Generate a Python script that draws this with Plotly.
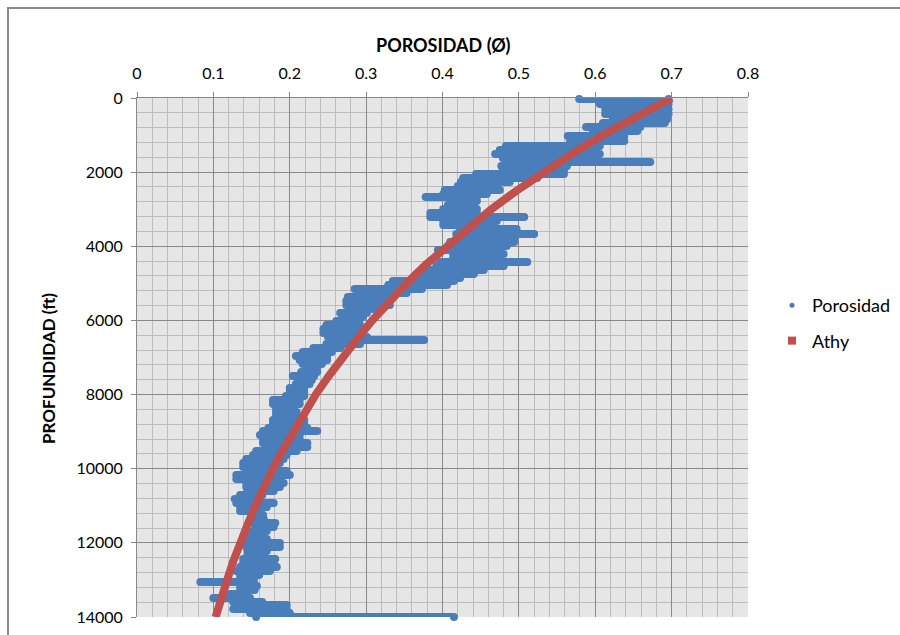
import plotly.graph_objects as go

# ---- data ----
depth_ft = [30, 160, 300, 430, 570, 675, 780, 890, 1025, 1160,
            1295, 1405, 1510, 1620, 1725, 1835, 1940, 2050, 2160, 2265,
            2375, 2480, 2590, 2670, 2780, 2885, 2995, 3100, 3210, 3320,
            3425, 3535, 3670, 3775, 3885, 3990, 4100, 4210, 4315, 4425,
            4530, 4640, 4750, 4855, 4935, 5045, 5150, 5260, 5370, 5475,
            5585, 5690, 5800, 5910, 6015, 6125, 6230, 6340, 6445, 6530,
            6635, 6745, 6850, 6960, 7070, 7175, 7285, 7390, 7500, 7605,
            7715, 7825, 7930, 8040, 8145, 8255, 8360, 8470, 8580, 8685,
            8795, 8900, 8985, 9090, 9200, 9305, 9415, 9520, 9630, 9740,
            9845, 9955, 10060, 10170, 10280, 10385, 10495, 10600, 10710, 10815,
            10925, 11035, 11140, 11250, 11355, 11465, 11570, 11680, 11790, 11895,
            12005, 12110, 12220, 12330, 12435, 12545, 12650, 12760, 12865, 12975,
            13055, 13165, 13270, 13380, 13490, 13595, 13675, 13785, 13895, 14000]

phi_left = [0.579, 0.606, 0.613, 0.613, 0.623, 0.610, 0.588, 0.597, 0.564, 0.567,
            0.483, 0.475, 0.469, 0.479, 0.483, 0.477, 0.479, 0.444, 0.427, 0.424,
            0.420, 0.403, 0.401, 0.378, 0.410, 0.407, 0.401, 0.384, 0.384, 0.401,
            0.401, 0.423, 0.418, 0.427, 0.410, 0.407, 0.394, 0.414, 0.414, 0.397,
            0.392, 0.381, 0.375, 0.364, 0.335, 0.329, 0.285, 0.292, 0.276, 0.274,
            0.274, 0.292, 0.266, 0.270, 0.261, 0.248, 0.244, 0.244, 0.250, 0.257,
            0.248, 0.231, 0.217, 0.208, 0.213, 0.217, 0.227, 0.215, 0.204, 0.211,
            0.208, 0.200, 0.200, 0.195, 0.178, 0.178, 0.182, 0.182, 0.182, 0.178,
            0.178, 0.172, 0.165, 0.161, 0.165, 0.165, 0.169, 0.156, 0.152, 0.143,
            0.139, 0.139, 0.156, 0.130, 0.130, 0.143, 0.143, 0.145, 0.135, 0.128,
            0.130, 0.135, 0.135, 0.151, 0.152, 0.152, 0.156, 0.152, 0.149, 0.145,
            0.143, 0.143, 0.145, 0.145, 0.139, 0.139, 0.135, 0.130, 0.135, 0.135,
            0.083, 0.135, 0.135, 0.122, 0.100, 0.126, 0.148, 0.126, 0.148, 0.156]

phi_right = [0.696, 0.696, 0.696, 0.696, 0.694, 0.691, 0.659, 0.655, 0.638, 0.638,
             0.606, 0.589, 0.606, 0.602, 0.672, 0.563, 0.559, 0.559, 0.524, 0.488,
             0.471, 0.475, 0.458, 0.445, 0.445, 0.441, 0.445, 0.445, 0.507, 0.471,
             0.465, 0.497, 0.520, 0.494, 0.494, 0.484, 0.471, 0.480, 0.471, 0.511,
             0.480, 0.454, 0.441, 0.423, 0.415, 0.406, 0.373, 0.353, 0.334, 0.321,
             0.331, 0.314, 0.301, 0.295, 0.291, 0.292, 0.292, 0.288, 0.301, 0.376,
             0.292, 0.266, 0.255, 0.249, 0.249, 0.242, 0.236, 0.236, 0.232, 0.229,
             0.226, 0.219, 0.219, 0.219, 0.213, 0.213, 0.205, 0.209, 0.209, 0.219,
             0.219, 0.223, 0.236, 0.213, 0.213, 0.223, 0.223, 0.209, 0.196, 0.192,
             0.187, 0.183, 0.196, 0.200, 0.179, 0.192, 0.187, 0.179, 0.164, 0.161,
             0.179, 0.170, 0.161, 0.165, 0.166, 0.181, 0.179, 0.170, 0.164, 0.170,
             0.187, 0.187, 0.170, 0.166, 0.181, 0.179, 0.183, 0.174, 0.160, 0.153,
             0.153, 0.157, 0.154, 0.144, 0.148, 0.164, 0.196, 0.196, 0.200, 0.415]

athy_depth = [0, 500, 1000, 1500, 2000, 2500, 3000, 3500, 4000, 4500,
              5000, 5500, 6000, 6500, 7000, 7500, 8000, 8500, 9000, 9500,
              10000, 10500, 11000, 11500, 12000, 12500, 13000, 13500, 14000]
athy_phi = [0.700, 0.654, 0.610, 0.570, 0.532, 0.497, 0.464, 0.434, 0.405, 0.378,
            0.353, 0.330, 0.308, 0.288, 0.268, 0.251, 0.234, 0.219, 0.204, 0.191,
            0.178, 0.166, 0.155, 0.145, 0.135, 0.126, 0.118, 0.110, 0.103]

x_ticks = [0, 0.1, 0.2, 0.3, 0.4, 0.5, 0.6, 0.7, 0.8]
y_ticks = [0, 2000, 4000, 6000, 8000, 10000, 12000, 14000]

BLUE = "#4a7ebb"
RED = "#c0504d"
FONT = "Lato"
MAJOR = "#888888"
MINOR = "#bcbcbc"

# build the log trace: one horizontal run per depth step
xs, ys = [], []
for d, lft, rgt in zip(depth_ft, phi_left, phi_right):
    xs += [lft, rgt, None]
    ys += [d, d, None]

fig = go.Figure()
fig.add_trace(go.Scatter(x=xs, y=ys, mode="lines+markers",
                         line=dict(color=BLUE, width=8),
                         marker=dict(color=BLUE, size=8),
                         cliponaxis=False, showlegend=False, hoverinfo="skip"))
fig.add_trace(go.Scatter(x=athy_phi, y=athy_depth, mode="lines",
                         line=dict(color=RED, width=8),
                         showlegend=False, hoverinfo="skip"))
# legend entries
fig.add_trace(go.Scatter(x=[None], y=[None], mode="markers", name="Porosidad",
                         marker=dict(color=BLUE, size=5, symbol="circle"),
                         legendgroup="a"))
fig.add_trace(go.Scatter(x=[None], y=[None], mode="markers", name="Athy",
                         marker=dict(color=RED, size=8, symbol="square"),
                         legendgroup="b"))

W, H = 900, 635
L, R, T, B = 137, 152, 98, 18
pw, ph = W - L - R, H - T - B

fig.update_layout(
    width=W, height=H,
    margin=dict(l=L, r=R, t=T, b=B, autoexpand=False),
    paper_bgcolor="white", plot_bgcolor="#e6e6e6",
    font=dict(family=FONT, color="black"),
    showlegend=True,
    legend=dict(x=(772 - L) / pw, xanchor="left", y=1 - (323 - T) / ph, yanchor="middle",
                font=dict(family=FONT, size=18, color="black"),
                traceorder="grouped", tracegroupgap=9, bgcolor="rgba(0,0,0,0)"),
    xaxis=dict(range=[0, 0.8], side="top", tickvals=x_ticks,
               showgrid=True, gridcolor=MAJOR, gridwidth=1,
               minor=dict(dtick=0.02, tick0=0, showgrid=True, gridcolor=MINOR, gridwidth=1),
               ticks="outside", ticklen=5, tickcolor=MAJOR,
               showline=True, linecolor=MAJOR, linewidth=1, zeroline=False,
               tickfont=dict(family=FONT, size=16, color="black"),
               ticklabelstandoff=7,
               automargin=False),
    yaxis=dict(range=[14000, 0], tickvals=y_ticks, tickformat="d",
               showgrid=True, gridcolor=MAJOR, gridwidth=1,
               minor=dict(dtick=400, tick0=0, showgrid=True, gridcolor=MINOR, gridwidth=1),
               ticks="outside", ticklen=5, tickcolor=MAJOR,
               showline=True, linecolor=MAJOR, linewidth=1, zeroline=False,
               tickfont=dict(family=FONT, size=16, color="black"),
               ticklabelstandoff=5,
               automargin=False),
    annotations=[
        dict(text="POROSIDAD (Ø)", xref="paper", yref="paper",
             x=(443 - L) / pw, y=1 + (T - 45) / ph, xanchor="center", yanchor="middle",
             showarrow=False,
             font=dict(family=FONT, size=18, color="black", weight="bold")),
        dict(text="PROFUNDIDAD (ft)", xref="paper", yref="paper",
             x=(48 - L) / pw, y=1 - (369 - T) / ph, xanchor="center", yanchor="middle",
             textangle=-90, showarrow=False,
             font=dict(family=FONT, size=17, color="black", weight="bold")),
    ],
    shapes=[dict(type="rect", xref="paper", yref="paper",
                 x0=(8 - L) / pw, x1=(906 - L) / pw,
                 y0=1 - (645 - T) / ph, y1=1 + (T - 8) / ph,
                 line=dict(color="#8a8a8a", width=2), fillcolor="rgba(0,0,0,0)",
                 layer="below")],
)

fig.write_html("out.html")
